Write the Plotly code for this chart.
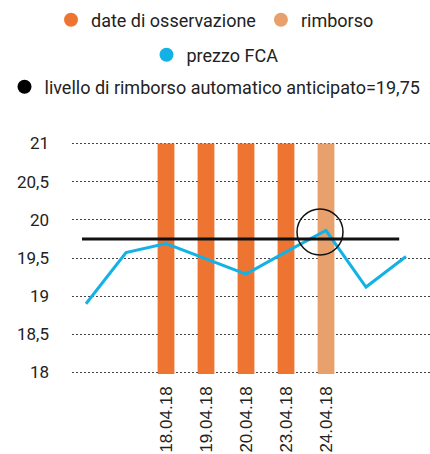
import plotly.graph_objects as go

# ---- data ----
price_values = [18.90, 19.57, 19.69, 19.49, 19.29, 19.58, 19.86, 19.12, 19.52]
obs_positions = [2, 3, 4, 5]
obs_labels = ["18.04.18", "19.04.18", "20.04.18", "23.04.18"]
rimb_positions = [6]
rimb_labels = ["24.04.18"]
bar_top = 21
threshold = 19.75
y_ticks = [18, 18.5, 19, 19.5, 20, 20.5, 21]

ORANGE = "#EE7431"
LIGHT = "#E8A06D"
BLUE = "#12B2E6"
TXT = "#222222"
FONT = "Roboto"

fig = go.Figure()

# bars (observation dates and reimbursement)
fig.add_trace(go.Bar(x=obs_positions, y=[bar_top] * len(obs_positions), width=0.42,
                     marker=dict(color=ORANGE, line=dict(width=0)), showlegend=False))
fig.add_trace(go.Bar(x=rimb_positions, y=[bar_top] * len(rimb_positions), width=0.42,
                     marker=dict(color=LIGHT, line=dict(width=0)), showlegend=False))

# price line
fig.add_trace(go.Scatter(x=list(range(len(price_values))), y=price_values, mode="lines",
                         line=dict(color=BLUE, width=3), showlegend=False))

# threshold line
fig.add_trace(go.Scatter(x=[-0.1, 7.83], y=[threshold, threshold], mode="lines",
                         line=dict(color="#111111", width=3), showlegend=False))

# legend entries (circle symbols)
def leg(name, color, legend):
    fig.add_trace(go.Scatter(x=[None], y=[None], mode="markers", name=name,
                             marker=dict(color=color, size=14, symbol="circle"),
                             legend=legend, showlegend=True))

leg("date di osservazione", ORANGE, "legend")
leg("rimborso", LIGHT, "legend")
leg("prezzo FCA", BLUE, "legend2")
leg("livello di rimborso automatico anticipato=19,75", "#000000", "legend3")

# highlight circle
fig.add_shape(type="circle", xref="x", yref="y", xsizemode="pixel", ysizemode="pixel",
              xanchor=5.85, yanchor=19.84, x0=-23, x1=23, y0=-23, y1=23,
              line=dict(color="#111111", width=1.5))

legend_common = dict(orientation="h", xref="container", x=0.5, xanchor="center",
                     yref="container", yanchor="middle", font=dict(family=FONT, size=18, color=TXT),
                     bgcolor="rgba(0,0,0,0)", itemclick=False)

fig.update_layout(
    width=430, height=454,
    margin=dict(l=72, r=0, t=142, b=80, autoexpand=False),
    plot_bgcolor="white", paper_bgcolor="white",
    barmode="overlay",
    separators=",.",
    font=dict(family=FONT, color=TXT),
    legend=dict(**legend_common, y=1 - 20 / 454),
    legend2=dict(**legend_common, y=1 - 55 / 454),
    legend3=dict(**legend_common, y=1 - 87 / 454),
    xaxis=dict(range=[-0.35, 8.6], tickvals=obs_positions + rimb_positions,
               ticktext=obs_labels + rimb_labels, tickangle=-90, showgrid=False,
               zeroline=False, showline=False, ticks="", automargin=False,
               ticklabelstandoff=8,
               tickfont=dict(family="Liberation Sans", size=17, color=TXT)),
    yaxis=dict(range=[17.98, 21.02], tickvals=y_ticks, showgrid=True, gridcolor="#444444",
               griddash="1.5px,2.5px", gridwidth=1, zeroline=False, showline=False,
               ticks="", ticklabelstandoff=22, automargin=False,
               tickfont=dict(family=FONT, size=17, color=TXT)),
)

fig.write_html("out.html", config={"displayModeBar": False},
               post_script="document.body.style.margin='0';")
